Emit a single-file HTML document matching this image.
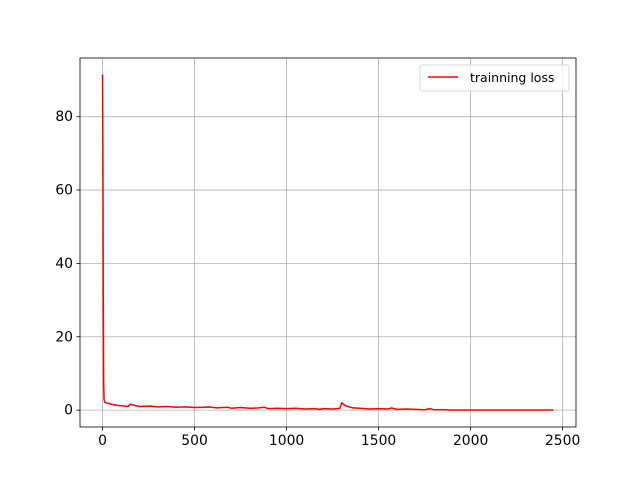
<!DOCTYPE html>
<html><head><meta charset="utf-8"><style>
body{margin:0;background:#fff}
svg text{font-family:"DejaVu Sans","Liberation Sans",sans-serif;font-size:13.9px;fill:#000}
</style></head><body>
<svg id="chart" width="640" height="480">
<rect width="640" height="480" fill="#fff"/>
<g id="grid"></g>
<g id="ticks"></g>
<path id="line" fill="none" stroke="#ff0000" stroke-width="1.5" stroke-linejoin="round"/>
<rect x="80" y="58" width="496" height="369" fill="none" stroke="#000" stroke-width="0.8"/>
<g>
<rect x="420" y="65" width="149" height="26" rx="2" fill="#fff" fill-opacity="0.8" stroke="#ccc" stroke-width="0.8"/>
<line x1="428" y1="77" x2="458" y2="77" stroke="#ff0000" stroke-width="1.5"/>
<text x="470" y="82" style="font-size:12.5px">trainning loss</text>
</g>
</svg>
<script>
const xTicks=[0,500,1000,1500,2000,2500];
const yTicks=[0,20,40,60,80];
const steps=[0,2,4,6,8,12,20,35,50,80,100,140,150,200,260,300,350,400,450,500,550,580,620,680,700,750,800,850,880,900,950,1000,1050,1100,1150,1180,1200,1250,1290,1300,1310,1320,1340,1360,1400,1450,1500,1550,1570,1600,1650,1700,1750,1780,1800,1850,1900,2000,2100,2200,2300,2450];
const loss=[91.5,70,30,8,3,2.2,2,1.8,1.6,1.3,1.2,1.0,1.6,1.0,1.1,0.9,1.0,0.8,0.9,0.7,0.8,0.9,0.6,0.8,0.5,0.7,0.5,0.6,0.8,0.4,0.5,0.4,0.5,0.3,0.4,0.2,0.4,0.3,0.5,2.0,1.6,1.2,0.9,0.6,0.5,0.3,0.4,0.3,0.6,0.2,0.3,0.2,0.1,0.4,0.1,0.1,0.05,0.05,0.03,0.03,0.02,0.02];
const X0=80,X1=576,Y0=58,Y1=427,xmin=-122.5,xmax=2572.5,ymin=-4.6,ymax=96;
const sx=v=>X0+(v-xmin)/(xmax-xmin)*(X1-X0);
const sy=v=>Y1-(v-ymin)/(ymax-ymin)*(Y1-Y0);
const NS='http://www.w3.org/2000/svg';
const g=document.getElementById('grid'),t=document.getElementById('ticks');
function mk(p,tag,a){const e=document.createElementNS(NS,tag);for(const k in a)e.setAttribute(k,a[k]);p.appendChild(e);return e;}
xTicks.forEach(v=>{const x=sx(v);
 const l=mk(g,'line',{x1:x,x2:x,y1:Y0,y2:Y1,stroke:'#b0b0b0','stroke-width':0.8});
 
 
 mk(t,'line',{x1:x,x2:x,y1:Y1,y2:Y1+3.5,stroke:'#000','stroke-width':0.8});
 const s=mk(t,'text',{x:x,y:Y1+18,'text-anchor':'middle','font-size':'12.5px'});s.textContent=v;
 
 });
yTicks.forEach(v=>{const y=sy(v);
 const l=mk(g,'line',{x1:X0,x2:X1,y1:y,y2:y,stroke:'#b0b0b0','stroke-width':0.8});
 
 
 mk(t,'line',{x1:X0-3.5,x2:X0,y1:y,y2:y,stroke:'#000','stroke-width':0.8});
 const s=mk(t,'text',{x:X0-7,y:y+4.5,'text-anchor':'end','font-size':'12.5px'});s.textContent=v;
 
 });
document.getElementById('line').setAttribute('d',steps.map((s,i)=>(i?'L':'M')+sx(s).toFixed(2)+','+sy(loss[i]).toFixed(2)).join(''));
</script>
</body></html>
